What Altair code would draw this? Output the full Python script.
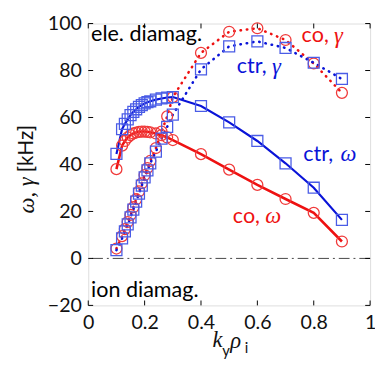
import altair as alt
import pandas as pd

# ---- data ----
k = [0.10, 0.12, 0.13, 0.14, 0.15, 0.16, 0.17, 0.18, 0.19, 0.20, 0.21, 0.22,
     0.24, 0.26, 0.28, 0.30, 0.40, 0.50, 0.60, 0.70, 0.80, 0.90]
co_omega = [38.0, 48.0, 50.0, 51.5, 52.5, 53.2, 53.6, 53.9, 54.0, 54.0, 53.9, 53.7,
            53.2, 52.5, 51.5, 50.4, 44.4, 37.8, 31.3, 25.3, 19.4, 7.2]
ctr_omega = [44.5, 55.0, 57.3, 59.2, 61.0, 62.4, 63.5, 64.5, 65.3, 66.0, 66.5, 66.9,
             67.6, 68.1, 68.5, 68.7, 64.9, 57.9, 50.0, 40.5, 30.1, 16.4]
co_gamma = [4.2, 9.5, 12.5, 15.5, 18.5, 21.8, 25.2, 28.6, 32.0, 35.5, 38.5, 41.5,
            47.0, 54.0, 60.5, 68.7, 87.5, 96.5, 98.0, 93.0, 83.0, 70.5]
ctr_gamma = [3.5, 8.5, 11.5, 14.5, 17.5, 20.8, 24.2, 27.6, 31.0, 34.5, 37.5, 40.5,
             45.5, 51.0, 56.0, 61.2, 80.5, 90.3, 92.4, 89.6, 83.3, 76.4]

x_ticks = [0, 0.2, 0.4, 0.6, 0.8, 1.0]
y_ticks = [-20, 0, 20, 40, 60, 80, 100]

RED = "#ee1111"
RED_M = "#f03a3a"
BLUE = "#0a14d8"
BLUE_M = "#4a5ce6"
FONT = "Lato"
SERIF = "Liberation Serif"

W, H = 288, 288
xs = alt.Scale(domain=[0, 1], nice=False)
ys = alt.Scale(domain=[-20, 100], nice=False)

df = pd.DataFrame({"k": k, "co_omega": co_omega, "ctr_omega": ctr_omega,
                   "co_gamma": co_gamma, "ctr_gamma": ctr_gamma})
base = alt.Chart(df)

xax = alt.Axis(values=x_ticks, format="~g", ticks=False, domain=False, grid=False,
               labelFont=FONT, labelFontSize=20, labelColor="#111", labelPadding=8,
               title=None, labelFlush=False)
yax = alt.Axis(values=y_ticks, ticks=False, domain=False, grid=False,
               labelFont=FONT, labelFontSize=20, labelColor="#111", labelPadding=7,
               title=None)

X = alt.X("k:Q", scale=xs, axis=xax)

def line(col, color, width, dash=None):
    kw = dict(color=color, strokeWidth=width, clip=True)
    if dash:
        kw["strokeDash"] = dash
        kw["strokeCap"] = "round"
    return base.mark_line(**kw).encode(x=X, y=alt.Y(f"{col}:Q", scale=ys, axis=yax))

def pts(col, shape, color):
    return base.mark_point(shape=shape, filled=False, color=color, size=125,
                           strokeWidth=1.3, opacity=1).encode(
        x=alt.X("k:Q", scale=xs), y=alt.Y(f"{col}:Q", scale=ys))

zero = alt.Chart(pd.DataFrame({"y": [0]})).mark_rule(
    color="#444", strokeWidth=1, strokeDash=[11, 4, 2, 4]).encode(
    y=alt.Y("y:Q", scale=ys))

# inward ticks on all four sides
ydf = pd.DataFrame({"v": y_ticks})
xdf = pd.DataFrame({"v": x_ticks})
tl = alt.Chart(ydf).mark_rule(color="black").encode(
    y=alt.Y("v:Q", scale=ys), x=alt.value(0), x2=alt.value(5))
tr = alt.Chart(ydf).mark_rule(color="black").encode(
    y=alt.Y("v:Q", scale=ys), x=alt.value(W - 5), x2=alt.value(W))
tb = alt.Chart(xdf).mark_rule(color="black").encode(
    x=alt.X("v:Q", scale=xs), y=alt.value(H), y2=alt.value(H - 5))
tt = alt.Chart(xdf).mark_rule(color="black").encode(
    x=alt.X("v:Q", scale=xs), y=alt.value(0), y2=alt.value(5))

# annotations
plain = pd.DataFrame({
    "x": [0.01, 0.01, 0.757, 0.527, 0.763, 0.513],
    "y": [95.6, -13.3, 95.0, 82.0, 44.6, 17.9],
    "t": ["ele. diamag.", "ion diamag.", "co,", "ctr,", "ctr,", "co,"],
    "c": ["black", "black", RED, BLUE, BLUE, RED],
})
greek = pd.DataFrame({
    "x": [0.872, 0.652, 0.895, 0.628],
    "y": [94.5, 81.5, 44.6, 17.9],
    "t": ["γ", "γ", "ω", "ω"],
    "c": [RED, BLUE, BLUE, RED],
})
txt_plain = alt.Chart(plain).mark_text(align="left", baseline="middle",
                                       font=FONT, fontSize=22).encode(
    x=alt.X("x:Q", scale=xs), y=alt.Y("y:Q", scale=ys),
    text="t:N", color=alt.Color("c:N", scale=None))
txt_greek = alt.Chart(greek).mark_text(align="left", baseline="middle",
                                       font=SERIF, fontSize=23, fontStyle="italic").encode(
    x=alt.X("x:Q", scale=xs), y=alt.Y("y:Q", scale=ys),
    text="t:N", color=alt.Color("c:N", scale=None))

# axis titles built from pieces
one = pd.DataFrame({"a": [0]})
def label(text, x, y, font, size, style="normal", angle=0, align="left"):
    return alt.Chart(one).mark_text(text=text, font=font, fontSize=size,
                                    fontStyle=style, angle=angle, align=align,
                                    baseline="middle", color="#111").encode(
        x=alt.value(x), y=alt.value(y))

xt = (label("k", 127, 323, SERIF, 23, "italic")
      + label("y", 137, 335, FONT, 15)
      + label("ρ", 145, 325, SERIF, 23, "italic")
      + label("i", 160, 332, FONT, 15))
yt = (label("ω, γ", -62, 194, SERIF, 23, "italic", angle=270)
      + label("[kHz]", -62, 152, FONT, 21, angle=270))

chart = alt.layer(
    zero,
    line("co_gamma", RED, 2.6, [0.5, 6]),
    line("ctr_gamma", BLUE, 2.6, [0.5, 6]),
    line("co_omega", RED, 2.6),
    line("ctr_omega", BLUE, 2.2),
    pts("co_omega", "circle", RED_M),
    pts("co_gamma", "circle", RED_M),
    pts("ctr_omega", "square", BLUE_M),
    pts("ctr_gamma", "square", BLUE_M),
    tl, tr, tb, tt,
    txt_plain, txt_greek, xt, yt,
).properties(
    width=W, height=H,
    autosize=alt.AutoSizeParams(type="none"),
    padding={"left": 82, "top": 12, "right": 5, "bottom": 56},
).configure_view(stroke="black", strokeWidth=1.2).configure(background="white")

chart.save("out.html", embed_options={"renderer": "svg", "actions": False})
